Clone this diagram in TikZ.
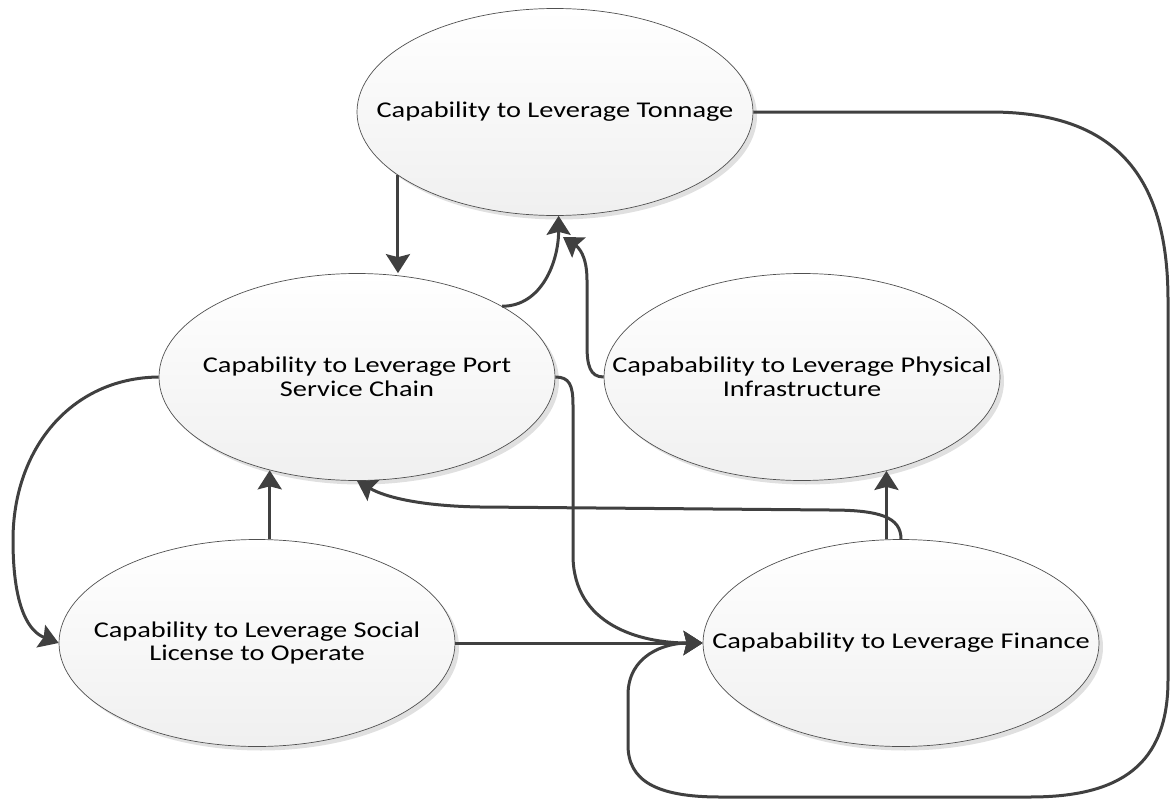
\documentclass[tikz,border=0pt]{standalone}
\usepackage{fontspec}
\newfontfamily\lblfont{Carlito}[FakeStretch=1.26]
\usetikzlibrary{shapes.geometric,arrows.meta,shadows,calc}
\definecolor{lnc}{HTML}{404040}
\definecolor{bdc}{HTML}{505050}
\begin{document}
\begin{tikzpicture}[x=1pt,y=-1pt,
  capnode/.style={ellipse, draw=bdc, line width=0.7pt,
    minimum width=396pt, minimum height=207pt,
    inner xsep=-150pt, inner ysep=-30pt,
    top color=white, bottom color=gray!12,
    drop shadow={shadow xshift=4pt, shadow yshift=-4pt, fill=black!20, opacity=0.6},
    align=center, font=\lblfont\fontsize{22.5}{23.5}\selectfont},
  conn/.style={draw=lnc, line width=3pt,
    -{Stealth[length=19pt,width=24pt,inset=3pt]}}]
\useasboundingbox (0,0) rectangle (1171,803);

\node[capnode] (T) at (555,112) {Capability to Leverage Tonnage};
\node[capnode] (P) at (357,377) {Capability to Leverage Port\\Service Chain};
\node[capnode] (H) at (802,377) {Capabability to Leverage Physical\\Infrastructure};
\node[capnode] (S) at (257,643) {Capability to Leverage Social\\License to Operate};
\node[capnode] (F) at (901,643) {Capabability to Leverage Finance};

\coordinate (hT) at (563,237);

% Tonnage -> Port
\draw[conn] (T.202) -- (T.202 |- P.north);
% Port -> Tonnage
\draw[conn] (P.26) .. controls +(40,0) and +(0,45) .. (T.272);
% Physical -> Tonnage
\draw[conn] (H.west) .. controls +(-14,0) and +(0,20) .. (587,345) -- (587,280)
  .. controls +(0,-25) and +(15,10) .. (hT);
% Port -> Social
\draw[conn] (P.west) .. controls (70,378) and (13,450) .. (13,540)
  .. controls (13,610) and (30,632) .. (S.west);
% Social -> Port
\draw[conn] (S.83) -- (S.83 |- P.227);
% Finance -> Port
\draw[conn] (F.north) .. controls +(0,-22) and +(50,0) .. (830,510) -- (480,507)
  .. controls (420,506) and (385,497) .. (P.south);
% Finance -> Physical
\draw[conn] (F.98) -- (F.98 |- H.312);
% Port -> Finance
\draw[conn] (P.east) .. controls +(14,0) and +(0,-20) .. (573,405) -- (573,555)
  .. controls (573,625) and (640,643) .. (F.west);
% Social -> Finance
\draw[conn] (S.east) -- (F.west);
% Tonnage -> Finance
\draw[conn] (T.east) -- (990,112) .. controls (1110,112) and (1168,170) .. (1168,300)
  -- (1168,680) .. controls (1168,765) and (1120,797) .. (1030,797) -- (720,797)
  .. controls (655,797) and (628,780) .. (628,745) -- (628,695)
  .. controls (628,655) and (665,643) .. (F.west);
\end{tikzpicture}
\end{document}
